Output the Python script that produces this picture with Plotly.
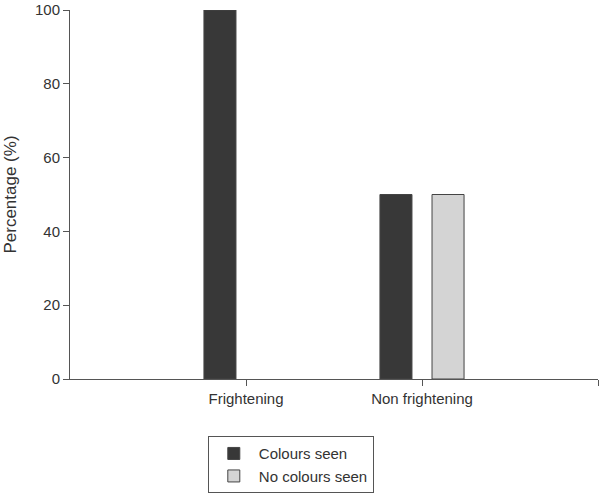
import plotly.graph_objects as go

categories = ["Frightening", "Non frightening"]
colours_seen = [100, 50]
no_colours_seen = [None, 50]
yticks = [0, 20, 40, 60, 80, 100]

xpos = [1, 2]
w = 0.182

fig = go.Figure()
fig.add_trace(go.Bar(
    x=xpos, y=colours_seen, name="Colours seen", width=w, offset=-0.148 - w / 2,
    marker=dict(color="#383838", line=dict(color="#444444", width=1)),
))
fig.add_trace(go.Bar(
    x=xpos, y=no_colours_seen, name="No colours seen", width=w, offset=0.148 - w / 2,
    marker=dict(color="#d4d4d4", line=dict(color="#444444", width=1)),
))

fig.update_layout(
    width=600, height=493,
    margin=dict(l=70, r=2, t=10, b=114, autoexpand=False),
    plot_bgcolor="white", paper_bgcolor="white",
    barmode="overlay",
    font=dict(family="Liberation Sans, Arial, sans-serif", size=14, color="#333333"),
    showlegend=True,
    legend=dict(
        x=0.261, y=-0.155, xanchor="left", yanchor="top",
        bordercolor="#555555", borderwidth=1, bgcolor="white",
        font=dict(size=15, color="#333333"),
        tracegroupgap=0, itemwidth=40,
    ),
)
fig.update_xaxes(
    range=[0, 3], tickvals=[1, 2, 3], ticktext=categories + [""],
    showline=True, linecolor="#555555", linewidth=1,
    ticks="outside", ticklen=6, tickcolor="#555555",
    showgrid=False, zeroline=False,
    tickfont=dict(size=15),
)
fig.update_yaxes(
    range=[0, 100], tickvals=yticks,
    showline=True, linecolor="#555555", linewidth=1,
    ticks="outside", ticklen=6, tickcolor="#555555",
    showgrid=False, zeroline=False,
    title=dict(text="Percentage (%)", font=dict(size=17), standoff=14),
    tickfont=dict(size=15),
)

fig.write_html(
    "out.html",
    config={"displayModeBar": False},
    post_script="document.body.style.margin='0';document.body.style.overflow='hidden';",
)
